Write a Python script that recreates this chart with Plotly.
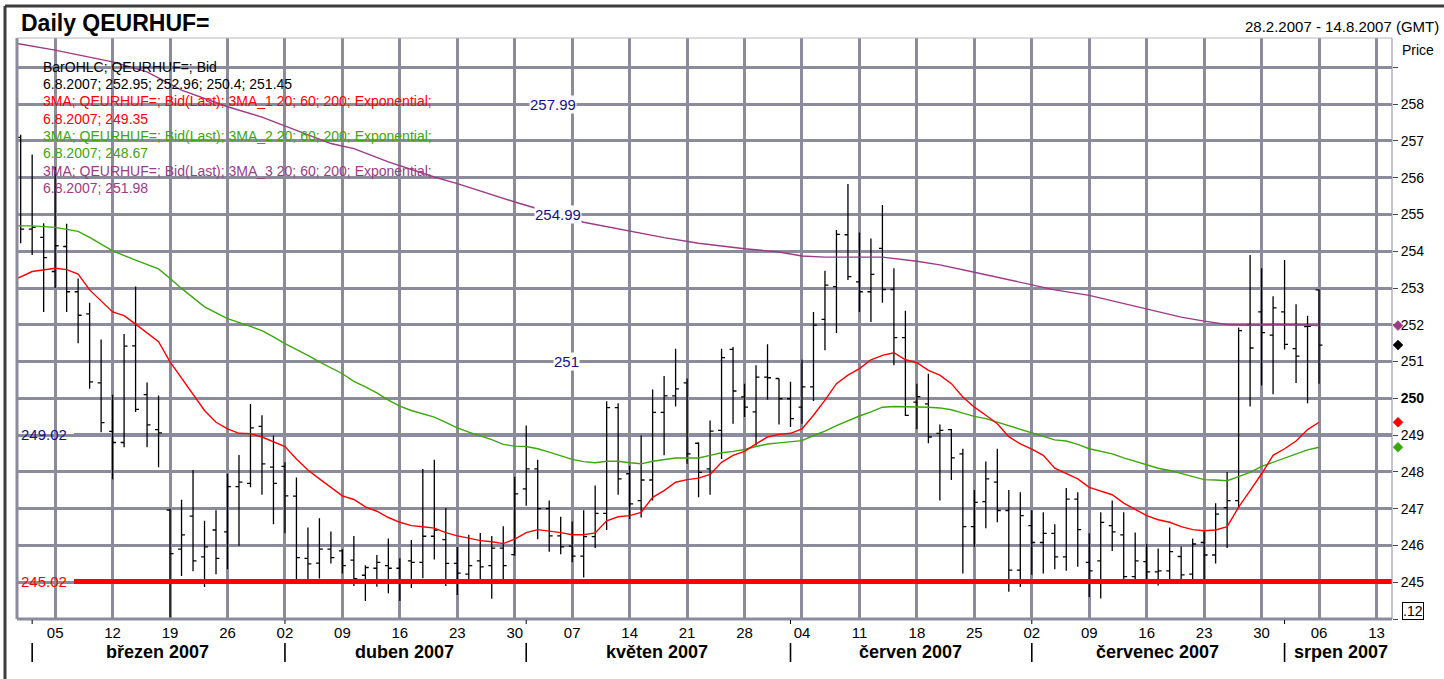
import pandas as pd
import plotly.graph_objects as go

# trading days on the time axis, 28.2.2007 - 14.8.2007
axis_dates = pd.bdate_range("2007-02-28", "2007-08-14")

# daily OHLC bars, 28.2.2007 - 6.8.2007
bar_open = [257.10, 254.60, 254.38, 253.45, 254.13, 252.90, 252.30, 250.42, 249.10, 248.80,
            251.43, 250.10, 249.15, 246.96, 245.90, 246.80, 245.69, 246.42, 246.37, 247.60,
            247.69, 249.24, 248.13, 248.15, 247.34, 245.65, 245.52, 245.90, 245.85, 245.60,
            245.19, 245.38, 245.45, 245.38, 245.58, 245.54, 246.25, 246.16, 245.51, 245.22,
            245.58, 245.45, 245.93, 245.75, 247.54, 248.08, 247.00, 246.26, 245.98, 245.71,
            246.24, 246.87, 249.75, 247.95, 247.22, 247.78, 249.62, 250.07, 250.42, 248.78,
            248.08, 249.13, 251.33, 250.04, 249.63, 250.58, 250.54, 249.99, 249.76, 250.31,
            252.15, 253.04, 254.45, 253.17, 252.90, 254.08, 252.96, 251.65, 249.90, 249.85,
            249.05, 249.15, 248.49, 246.51, 247.19, 247.72, 246.95, 245.33, 246.54, 246.08,
            246.33, 245.69, 247.26, 245.54, 245.58, 246.54, 246.29, 245.15, 245.56, 245.28,
            245.31, 245.70, 245.22, 246.08, 245.74, 247.03, 247.22, 251.99, 252.35, 251.72,
            252.35, 251.35, 251.95, 252.95]
bar_high = [257.17, 256.63, 254.76, 256.30, 254.75, 253.26, 252.60, 251.60, 250.10, 251.75,
            253.04, 250.43, 250.08, 247.00, 247.24, 248.05, 246.67, 246.96, 247.95, 248.46,
            249.85, 249.54, 248.99, 248.26, 247.85, 246.49, 246.74, 246.38, 245.90, 246.26,
            245.46, 245.74, 246.19, 245.65, 246.15, 248.08, 248.33, 247.02, 245.96, 246.29,
            246.34, 246.26, 246.52, 247.87, 249.26, 248.33, 247.22, 246.78, 246.65, 246.96,
            247.63, 249.92, 249.87, 248.17, 248.99, 250.24, 250.61, 251.35, 250.54, 248.81,
            249.40, 251.35, 251.40, 250.40, 250.90, 251.47, 250.54, 250.45, 251.05, 252.35,
            253.47, 254.58, 255.83, 254.51, 254.35, 255.26, 253.54, 252.38, 250.40, 250.67,
            249.29, 249.17, 248.63, 247.51, 248.28, 248.63, 247.51, 247.45, 246.96, 246.90,
            246.58, 247.56, 247.45, 246.33, 246.90, 247.22, 246.90, 246.35, 246.04, 245.92,
            246.49, 245.97, 246.19, 246.38, 247.15, 248.00, 251.93, 253.90, 253.54, 252.78,
            253.76, 252.56, 252.25, 252.96]
bar_low = [254.22, 253.90, 252.35, 253.00, 252.35, 251.50, 250.26, 249.08, 247.80, 248.67,
           249.63, 248.67, 248.13, 244.04, 245.17, 245.30, 244.87, 245.22, 245.35, 245.99,
           247.58, 247.38, 246.58, 246.33, 245.05, 245.05, 245.10, 245.51, 245.24, 244.90,
           244.49, 244.88, 244.70, 244.49, 244.84, 245.11, 245.62, 244.90, 244.65, 245.08,
           245.08, 244.55, 245.08, 245.72, 247.08, 246.17, 245.83, 245.76, 245.54, 245.13,
           245.93, 246.42, 247.38, 246.72, 246.76, 247.22, 248.45, 249.78, 248.22, 247.31,
           247.38, 248.35, 249.31, 249.49, 248.72, 249.96, 249.29, 249.22, 249.31, 249.93,
           251.31, 251.78, 253.22, 252.35, 252.08, 252.60, 250.90, 249.52, 249.17, 248.78,
           247.22, 247.78, 245.24, 245.96, 246.47, 246.63, 244.74, 244.87, 245.20, 245.24,
           245.35, 245.31, 245.42, 244.60, 244.56, 245.85, 245.05, 245.05, 245.05, 244.91,
           245.05, 245.05, 245.05, 245.08, 245.51, 245.93, 247.02, 249.78, 250.35, 250.11,
           251.33, 250.42, 249.87, 250.40]
bar_close = [254.60, 254.65, 253.83, 254.15, 252.90, 252.26, 250.45, 249.34, 248.80, 251.42,
             249.70, 249.28, 249.06, 245.78, 246.29, 245.58, 245.96, 245.65, 247.60, 247.72,
             249.20, 248.22, 247.69, 247.35, 245.67, 245.50, 245.90, 245.67, 245.45, 245.10,
             245.40, 245.54, 245.38, 245.00, 245.54, 246.25, 246.42, 245.51, 245.25, 245.45,
             245.42, 245.93, 245.45, 247.40, 248.08, 247.00, 246.26, 245.96, 245.71, 246.24,
             246.87, 249.75, 247.81, 247.13, 247.78, 249.62, 250.07, 250.26, 248.49, 247.99,
             249.11, 251.11, 250.20, 249.76, 250.58, 250.56, 249.99, 249.45, 250.31, 251.99,
             253.08, 254.46, 253.31, 252.90, 253.37, 252.96, 251.65, 249.54, 250.05, 248.95,
             249.13, 248.38, 246.51, 247.17, 247.81, 246.95, 245.33, 246.81, 246.08, 246.33,
             245.69, 247.26, 246.43, 245.31, 246.63, 246.37, 245.15, 245.58, 245.28, 245.31,
             245.83, 245.20, 246.04, 245.74, 246.85, 247.22, 251.84, 251.37, 251.79, 252.46,
             251.47, 251.15, 251.96, 251.45]

# 3MA_1 (20, exponential) - red, read at bar positions
ma1_idx = [-0.32, 1, 3, 4, 5, 6, 8, 9, 10, 12, 13, 15, 16, 17, 18, 19, 20, 21, 22, 23,
           24, 25, 26, 27, 28, 29, 30, 31, 32, 33, 34, 35, 36, 37, 38, 39, 40, 41, 42, 43,
           44, 45, 46, 47, 48, 49, 50, 51, 52, 53, 54, 55, 56, 57, 58, 59, 60, 61, 62, 63,
           64, 65, 66, 67, 68, 69, 70, 71, 72, 73, 74, 75, 76, 77, 78, 79, 80, 81, 82, 83,
           84, 85, 86, 87, 88, 89, 90, 91, 92, 93, 94, 95, 96, 97, 98, 99, 100, 101, 102, 103,
           104, 105, 106, 107, 108, 109, 110, 111, 112, 113]
ma1_val = [253.26, 253.45, 253.54, 253.50, 253.38, 252.95, 252.35, 252.25, 252.02, 251.54,
           250.99, 250.13, 249.67, 249.35, 249.17, 249.05, 249.04, 248.95, 248.81, 248.69,
           248.35, 248.05, 247.81, 247.58, 247.35, 247.25, 247.05, 246.93, 246.76, 246.63,
           246.54, 246.51, 246.47, 246.35, 246.26, 246.20, 246.13, 246.10, 246.05, 246.17,
           246.35, 246.43, 246.40, 246.35, 246.29, 246.29, 246.34, 246.67, 246.78, 246.81,
           246.90, 247.31, 247.49, 247.72, 247.79, 247.83, 247.93, 248.26, 248.45, 248.56,
           248.76, 248.95, 249.02, 249.05, 249.17, 249.54, 249.95, 250.40, 250.63, 250.81,
           251.05, 251.17, 251.24, 251.05, 250.97, 250.76, 250.63, 250.40, 250.04, 249.76,
           249.54, 249.31, 248.96, 248.76, 248.62, 248.45, 248.10, 247.95, 247.81, 247.58,
           247.47, 247.38, 247.15, 246.99, 246.81, 246.70, 246.63, 246.51, 246.43, 246.40,
           246.42, 246.51, 247.04, 247.49, 247.95, 248.45, 248.63, 248.84, 249.15, 249.35]

# 3MA_2 (60, exponential) - green
ma2_idx = [-0.32, 1, 3, 5, 6, 8, 10, 12, 13, 14, 16, 18, 20, 21, 22, 23, 25, 26, 28, 29,
           30, 31, 32, 33, 34, 35, 36, 37, 38, 39, 40, 41, 42, 43, 44, 45, 46, 47, 48, 49,
           50, 51, 52, 53, 54, 55, 56, 57, 58, 59, 60, 61, 62, 63, 64, 65, 66, 67, 68, 69,
           70, 71, 72, 73, 74, 75, 76, 77, 78, 79, 80, 81, 82, 83, 84, 85, 86, 87, 88, 89,
           90, 91, 92, 93, 94, 95, 96, 97, 98, 99, 100, 101, 102, 103, 104, 105, 106, 107, 108, 109,
           110, 111, 112, 113]
ma2_val = [254.69, 254.69, 254.65, 254.54, 254.38, 254.01, 253.76, 253.52, 253.26, 252.99,
           252.49, 252.17, 251.96, 251.84, 251.67, 251.49, 251.17, 250.99, 250.67, 250.46,
           250.31, 250.15, 249.95, 249.79, 249.67, 249.58, 249.49, 249.35, 249.20, 249.08,
           248.99, 248.88, 248.75, 248.70, 248.69, 248.63, 248.54, 248.43, 248.34, 248.28,
           248.25, 248.29, 248.29, 248.25, 248.22, 248.29, 248.33, 248.38, 248.38, 248.38,
           248.45, 248.52, 248.56, 248.61, 248.69, 248.76, 248.79, 248.81, 248.85, 248.99,
           249.11, 249.26, 249.40, 249.52, 249.63, 249.76, 249.78, 249.78, 249.78, 249.76,
           249.74, 249.69, 249.60, 249.51, 249.45, 249.35, 249.25, 249.17, 249.05, 248.96,
           248.87, 248.84, 248.75, 248.63, 248.56, 248.49, 248.38, 248.29, 248.19, 248.10,
           248.04, 247.95, 247.86, 247.79, 247.78, 247.76, 247.87, 247.99, 248.15, 248.26,
           248.38, 248.49, 248.60, 248.67]

# 3MA_3 (200, exponential) - purple
ma3_idx = [-0.32, 3, 5, 8, 11, 14, 18, 21, 27, 29, 32, 36, 38, 43, 49, 53, 56, 59, 63, 66,
           68, 70, 75, 78, 80, 83, 88, 90, 93, 98, 101, 103, 105, 107, 109, 111, 113]
ma3_val = [259.65, 259.47, 259.34, 259.15, 258.88, 258.38, 257.93, 257.65, 256.93, 256.79,
           256.43, 256.02, 255.84, 255.34, 254.79, 254.54, 254.37, 254.22, 254.07, 253.98,
           253.87, 253.84, 253.84, 253.73, 253.63, 253.43, 253.09, 252.95, 252.80, 252.43,
           252.21, 252.10, 252.01, 251.99, 252.01, 252.00, 251.98]

# horizontal price lines
levels = [257.99, 254.99, 251.00, 249.02, 245.02]
level_labels = ["257.99", "254.99", "251", "249.02", "245.02"]

month_names = {3: "březen 2007", 4: "duben 2007", 5: "květen 2007",
               6: "červen 2007", 7: "červenec 2007", 8: "srpen 2007"}

legend_lines = ["BarOHLC; QEURHUF=; Bid",
                "6.8.2007; 252.95; 252.96; 250.4; 251.45",
                "3MA; QEURHUF=; Bid(Last); 3MA_1 20; 60; 200; Exponential;",
                "6.8.2007; 249.35",
                "3MA; QEURHUF=; Bid(Last); 3MA_2 20; 60; 200; Exponential;",
                "6.8.2007; 248.67",
                "3MA; QEURHUF=; Bid(Last); 3MA_3 20; 60; 200; Exponential;",
                "6.8.2007; 251.98"]

FONT = "Liberation Sans, Arial, sans-serif"
RED = "#ff0000"
GREEN = "#3ca60c"
PURPLE = "#9c3a86"
BLUE = "#10108f"
GRID = "#8c8b9b"

# plot area in pixels
L, T, W, H = 17, 38, 1375, 581
Y_LO, Y_HI = 244.0, 259.8


def px(x):
    return (x - L) / W


def py(y):
    return (T + H - y) / H


bar_x = list(range(len(bar_close)))

fig = go.Figure()

fig.add_trace(go.Ohlc(
    x=bar_x, open=bar_open, high=bar_high, low=bar_low, close=bar_close,
    increasing=dict(line=dict(color="black", width=1.3)),
    decreasing=dict(line=dict(color="black", width=1.3)),
    tickwidth=0.3, showlegend=False, hoverinfo="skip"
))

for xs, ys, col in [(ma3_idx, ma3_val, PURPLE), (ma2_idx, ma2_val, GREEN), (ma1_idx, ma1_val, RED)]:
    fig.add_trace(go.Scatter(x=xs, y=ys, mode="lines", line=dict(color=col, width=1.4),
                             showlegend=False, hoverinfo="skip"))

shapes = []
annotations = []

# last-value diamonds right of the plot (y in data units)
dv = 5 * (Y_HI - Y_LO) / H
for v, col in [(ma3_val[-1], PURPLE), (bar_close[-1], "black"), (ma1_val[-1], RED), (ma2_val[-1], GREEN)]:
    path = "M %f,%f L %f,%f L %f,%f L %f,%f Z" % (px(1393), v, px(1398), v + dv, px(1403), v, px(1398), v - dv)
    shapes.append(dict(type="path", xref="paper", yref="y", path=path,
                       fillcolor=col, line=dict(color=col, width=0.5)))

# price lines
for lv, lab in zip(levels, level_labels):
    if lab == "245.02":
        shapes.append(dict(type="line", xref="paper", yref="y", x0=px(74), x1=1, y0=lv, y1=lv,
                           line=dict(color=RED, width=5), layer="above"))
        annotations.append(dict(xref="paper", yref="y", x=px(19), y=lv, text=lab, showarrow=False,
                                xanchor="left", yanchor="middle", font=dict(family=FONT, size=15, color=RED)))
    elif lab == "249.02":
        shapes.append(dict(type="line", xref="paper", yref="y", x0=px(74), x1=1, y0=lv, y1=lv,
                           line=dict(color=BLUE, width=1.8), layer="between"))
        annotations.append(dict(xref="paper", yref="y", x=px(19), y=lv, text=lab, showarrow=False,
                                xanchor="left", yanchor="middle", font=dict(family=FONT, size=15, color=BLUE)))
    else:
        dash = "dash" if lab == "254.99" else "solid"
        shapes.append(dict(type="line", xref="paper", yref="y", x0=0, x1=1, y0=lv, y1=lv,
                           line=dict(color=BLUE, width=1.8, dash=dash), layer="between"))
        cx = {"257.99": 553, "254.99": 558, "251": 566}[lab]
        annotations.append(dict(xref="paper", yref="y", x=px(cx), y=lv, text=lab, showarrow=False,
                                xanchor="center", yanchor="middle", bgcolor="white", borderpad=0,
                                font=dict(family=FONT, size=15, color=BLUE)))

# plot frame
shapes += [
    dict(type="line", xref="paper", yref="paper", x0=0, x1=0, y0=0, y1=1, line=dict(color=GRID, width=3)),
    dict(type="line", xref="paper", yref="paper", x0=0, x1=1, y0=0, y1=0, line=dict(color=GRID, width=3)),
    dict(type="line", xref="paper", yref="paper", x0=0, x1=1, y0=1, y1=1, line=dict(color="#b4b4c0", width=1)),
    dict(type="line", xref="paper", yref="paper", x0=1, x1=1, y0=0, y1=1, line=dict(color=GRID, width=1)),
]
# outer window border
shapes += [
    dict(type="line", xref="paper", yref="paper", x0=px(5), x1=px(1444), y0=py(6), y1=py(6),
         line=dict(color="#3c3c3c", width=3)),
    dict(type="line", xref="paper", yref="paper", x0=px(5), x1=px(5), y0=py(6), y1=py(679),
         line=dict(color="#3c3c3c", width=3)),
]

# month separators and labels
x_lo, x_hi = -0.32, 119.35
for m, name in month_names.items():
    days = [i for i, d in enumerate(axis_dates) if d.month == m]
    first, last = days[0], days[-1]
    shapes.append(dict(type="line", xref="x", yref="paper", x0=first, x1=first,
                       y0=py(643), y1=py(662), line=dict(color="black", width=1.6)))
    shapes.append(dict(type="line", xref="x", yref="paper", x0=first, x1=first,
                       y0=py(620), y1=py(624), line=dict(color="black", width=1)))
    cx = (max(first, x_lo) + min(last, x_hi)) / 2
    annotations.append(dict(xref="x", yref="paper", x=cx + 0.4, y=py(652), text="<b>%s</b>" % name,
                            showarrow=False, xanchor="center", yanchor="middle",
                            font=dict(family=FONT, size=18, color="black")))

# texts
annotations.append(dict(xref="paper", yref="paper", x=px(19), y=py(23), text="<b>Daily QEURHUF=</b>",
                        showarrow=False, xanchor="left", yanchor="middle",
                        font=dict(family=FONT, size=23, color="black")))
annotations.append(dict(xref="paper", yref="paper", x=px(1441), y=py(27), text="28.2.2007 - 14.8.2007 (GMT)",
                        showarrow=False, xanchor="right", yanchor="middle",
                        font=dict(family=FONT, size=15, color="black")))
annotations.append(dict(xref="paper", yref="paper", x=px(1400), y=py(50), text="Price",
                        showarrow=False, xanchor="left", yanchor="middle",
                        font=dict(family=FONT, size=14, color="black")))
annotations.append(dict(xref="paper", yref="paper", x=px(1413), y=py(611), text=".12",
                        showarrow=False, xanchor="center", yanchor="middle",
                        bordercolor="black", borderwidth=1, borderpad=0,
                        font=dict(family=FONT, size=14, color="black")))

legend_colors = ["black", "black", RED, RED, GREEN, GREEN, PURPLE, PURPLE]
for k, (txt, col) in enumerate(zip(legend_lines, legend_colors)):
    annotations.append(dict(xref="paper", yref="paper", x=px(41), y=py(66.7 + 17.3 * k), text=txt,
                            showarrow=False, xanchor="left", yanchor="middle",
                            font=dict(family=FONT, size=14, color=col)))

mondays = [i for i, d in enumerate(axis_dates) if d.weekday() == 0]
monday_text = [axis_dates[i].strftime("%d") for i in mondays]

y_ticks = list(range(244, 260))
y_text = ["" if v in (244, 259) else ("<b>250</b>" if v == 250 else str(v)) for v in y_ticks]

fig.update_layout(
    width=1444, height=679,
    margin=dict(l=L, r=1444 - L - W, t=T, b=679 - T - H),
    paper_bgcolor="white", plot_bgcolor="white",
    font=dict(family=FONT, size=14, color="black"),
    shapes=shapes, annotations=annotations,
    xaxis=dict(range=[x_lo, x_hi], tickmode="array", tickvals=mondays, ticktext=monday_text,
               showgrid=True, gridcolor=GRID, gridwidth=3, zeroline=False, showline=False,
               ticks="", ticklabelstandoff=3, tickfont=dict(family=FONT, size=15),
               rangeslider=dict(visible=False)),
    yaxis=dict(range=[Y_LO, Y_HI], side="right", tickmode="array", tickvals=y_ticks, ticktext=y_text,
               showgrid=True, gridcolor=GRID, gridwidth=3, zeroline=False, showline=False,
               ticks="outside", ticklen=5, tickcolor="#444", tickfont=dict(family=FONT, size=14)),
)

fig.write_html("out.html", config={"displayModeBar": False},
               post_script="document.body.style.margin='0px';")
